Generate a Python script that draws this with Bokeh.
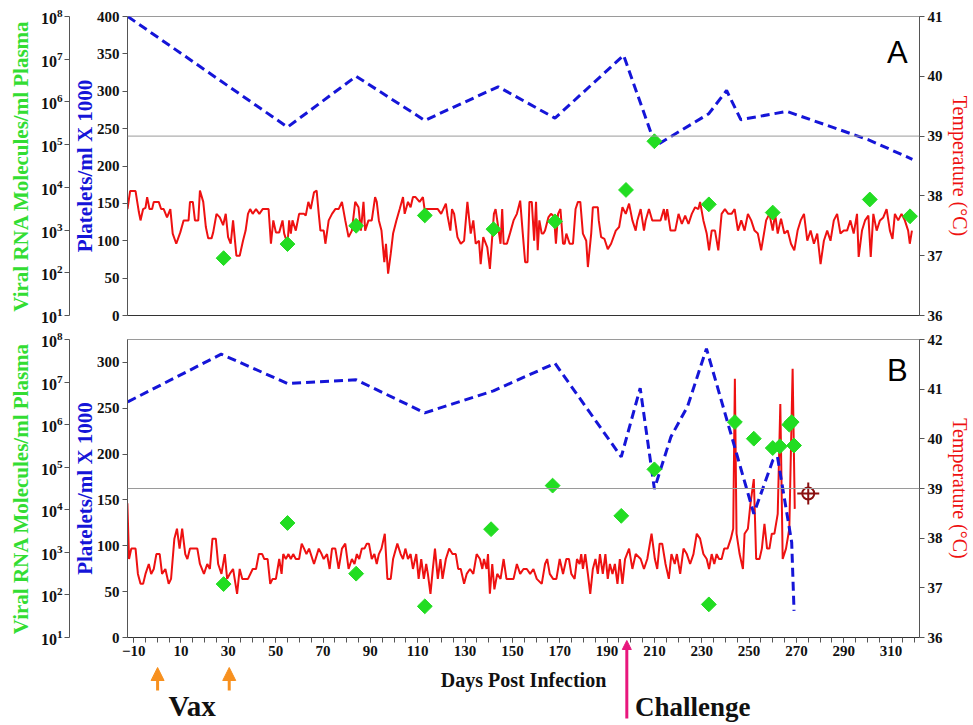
from bokeh.plotting import figure
from bokeh.models import (Range1d, LinearAxis, LogAxis, LogScale, FixedTicker, Span,
                          Label, Arrow, NormalHead, GridBox)
from bokeh.embed import file_html
from bokeh.resources import INLINE

# ---------------- data ----------------
# Panel A
a_plt_days = [-12.5, 55, 84, 113, 144, 168, 197, 210.5, 233, 240.5, 246.5, 266, 300.5, 319]
a_plt_vals = [400, 252, 320, 261, 306, 264, 348, 227, 270, 301, 262, 273, 235, 209]

a_vir_days = [28, 55, 84, 113, 142, 168, 198, 210, 233, 260, 301, 318]
a_vir_vals = [220, 470, 1260, 2200, 1050, 1600, 8700, 120000, 4000, 2570, 5200, 2100]

a_tmp_days = [-12.6, -11.5, -9.2, -7.8, -7.1, -6.0, -5.0, -4.3, -3.3, -2.2, -1.5, 0.6, 1.6, 2.7,
              4.1, 5.5, 6.5, 8.0, 9.7, 11.1, 13.2, 13.8, 15.0, 15.9, 17.3, 18.0, 19.4, 20.5,
              21.5, 22.9, 23.6, 25.0, 26.4, 27.8, 28.9, 29.9, 31.0, 32.0, 33.4, 34.8, 36.2,
              37.3, 38.3, 39.2, 40.3, 41.7, 43.1, 44.5, 45.9, 47.0, 48.0, 49.0, 50.1, 51.5,
              52.9, 53.6, 55.0, 55.7, 56.4, 57.1, 58.5, 59.9, 62.0, 62.7, 63.8, 64.8, 66.2,
              67.3, 68.2, 68.9, 70.3, 71.0, 72.4, 73.8, 75.2, 76.6, 78.0, 79.4, 80.8, 82.2,
              83.6, 85.0, 86.0, 87.1, 87.8, 89.2, 90.6, 92.0, 92.7, 93.6, 94.7, 95.9, 96.6,
              97.5, 98.6, 99.6, 101.0, 102.4, 103.8, 104.5, 105.9, 107.0, 108.0, 109.1, 110.8,
              112.2, 112.9, 114.3, 116.4, 118.5, 119.9, 121.9, 122.6, 123.8, 124.5, 125.4,
              126.8, 128.2, 129.6, 131.0, 132.4, 133.5, 134.5, 135.9, 136.6, 137.7, 139.4,
              140.5, 142.2, 142.9, 143.6, 145.0, 145.7, 146.3, 147.7, 149.1, 150.5, 151.9,
              153.3, 154.4, 155.4, 156.4, 157.2, 158.2, 159.2, 160.0, 160.7, 161.4, 162.4,
              163.1, 163.8, 165.2, 166.3, 167.2, 167.9, 168.4, 169.3, 170.3, 171.4, 172.1,
              172.8, 174.2, 175.6, 176.7, 177.7, 178.7, 179.8, 181.2, 181.9, 183.3, 184.0,
              186.1, 186.5, 187.5, 188.9, 190.3, 191.7, 193.7, 195.1, 196.5, 197.9, 199.3,
              200.7, 202.1, 202.8, 204.2, 205.6, 206.3, 207.7, 209.1, 210.5, 212.6, 214.0,
              214.7, 215.4, 216.8, 218.8, 220.2, 221.6, 223.0, 224.4, 225.8, 227.2, 228.6,
              229.3, 230.7, 232.1, 233.1, 234.2, 235.6, 237.0, 238.4, 239.8, 241.2, 242.6,
              243.9, 245.3, 246.7, 248.1, 249.5, 250.9, 252.3, 253.7, 255.1, 256.5, 257.2,
              258.6, 260.0, 261.0, 262.1, 263.5, 264.9, 266.3, 267.7, 269.1, 270.5, 271.8,
              273.2, 274.6, 276.0, 277.4, 278.8, 280.2, 281.6, 283.0, 284.4, 285.8, 287.2,
              288.6, 290.0, 291.4, 292.8, 294.2, 295.6, 296.3, 297.7, 299.0, 300.4, 301.4,
              302.5, 303.9, 305.3, 306.7, 308.1, 309.5, 310.6, 311.6, 313.0, 314.4, 315.8,
              317.2, 317.9, 318.8]
a_tmp_vals = [37.78, 38.08, 38.08, 37.73, 37.59, 37.78, 37.80, 37.98, 37.78, 37.78, 37.90, 37.90,
              37.78, 37.78, 37.64, 37.78, 37.37, 37.20, 37.39, 37.59, 37.59, 37.90, 37.90, 37.59,
              37.59, 38.09, 37.90, 37.48, 37.29, 37.29, 37.39, 37.70, 37.64, 37.51, 37.70, 37.31,
              37.20, 37.59, 37.00, 37.00, 37.25, 37.42, 37.70, 37.78, 37.70, 37.78, 37.70, 37.78,
              37.78, 37.78, 37.20, 37.59, 37.39, 37.39, 37.59, 37.37, 37.20, 37.59, 37.37, 37.59,
              37.42, 37.70, 37.70, 37.67, 37.90, 37.78, 38.06, 38.09, 37.70, 37.42, 37.42, 37.20,
              37.59, 37.70, 37.78, 37.78, 37.90, 37.59, 37.31, 37.42, 37.90, 37.81, 37.42, 37.90,
              37.42, 37.59, 37.59, 37.98, 37.90, 37.59, 37.42, 36.89, 37.20, 36.70, 37.03, 37.37,
              37.59, 37.78, 37.98, 37.70, 37.90, 37.81, 37.98, 37.98, 37.90, 37.98, 37.78, 37.78,
              37.78, 37.78, 37.70, 37.87, 37.67, 37.42, 37.78, 37.70, 37.31, 37.20, 37.25, 37.90,
              37.37, 37.59, 37.20, 37.25, 36.86, 37.31, 37.14, 36.78, 37.70, 37.78, 37.59, 37.20,
              37.78, 37.20, 37.20, 37.39, 37.59, 37.70,
              37.92, 37.37, 36.89, 36.89, 37.90, 37.90, 37.25, 37.90, 37.09, 37.59, 37.37, 37.37,
              37.42, 37.64, 37.70, 37.67, 37.48, 37.20, 37.70, 37.78, 37.20, 37.20, 37.37, 37.20,
              37.20, 37.78, 37.90, 37.90, 37.37, 37.25, 36.81, 37.37, 37.81, 37.81, 37.59, 37.31,
              37.28, 37.11, 37.20, 37.42, 37.48, 37.81, 37.70, 37.87, 37.59, 37.42, 37.59, 37.78,
              37.42, 37.59, 37.78, 37.59, 37.59, 37.59, 37.78, 37.59, 37.78, 37.42, 37.42, 37.70,
              37.53, 37.67, 37.53, 37.70, 37.81, 37.78, 37.90, 37.59, 37.37, 37.09, 37.42, 37.42,
              37.09, 37.70, 37.78, 37.70, 37.70, 37.78, 37.42, 37.59, 37.42, 37.70, 37.59, 37.42,
              37.37, 37.09, 37.42, 37.59, 37.70, 37.42, 37.70, 37.37, 37.62, 37.37, 37.42, 37.20,
              37.09, 37.42, 37.59, 37.70, 37.25, 37.42, 37.20, 37.37, 36.86, 37.25, 37.42, 37.25,
              37.59, 37.70, 37.37, 37.42, 37.42, 37.59, 37.37, 37.70, 36.98, 37.42, 37.59, 37.67,
              36.98, 37.70, 37.42, 37.59, 37.64, 37.78, 37.42, 37.28, 37.70, 37.59, 37.70, 37.59,
              37.42, 37.20, 37.42]

# Panel B
b_plt_days = [-12.5, 27, 55, 84, 113, 142, 168, 196, 204, 210, 217, 224, 232, 252, 260, 262, 268, 269]
b_plt_vals = [257, 309, 277, 281, 245, 269, 299, 197, 272, 162, 219, 252, 315, 135, 193, 197, 104, 29]

b_vir_days = [28, 55, 84, 113, 141, 167, 196, 210, 233, 244, 252, 260, 263, 267, 268, 269]
b_vir_vals = [180, 4900, 316, 54, 3500, 37000, 7200, 89000, 60, 1150000, 468000, 282000,
              309000, 1000000, 1150000, 324000]

b_tmp_days = [-12.65, -11.95, -11.0, -9.2, -8.2, -7.1, -6.0, -5.0, -3.6, -2.6, -1.5, -0.4, 1.0,
              2.0, 3.4, 4.8, 5.8, 7.2, 8.3, 9.4, 10.5, 11.8, 12.7, 13.8, 16.9, 18.0, 19.7, 21.1,
              22.2, 23.3, 24.7, 25.7, 27.1, 28.5, 29.5, 30.6, 32.0, 33.7, 34.8, 35.9, 38.3, 40.3,
              41.7, 42.9, 44.3, 45.2, 46.6, 47.7, 48.7, 50.1, 51.5, 52.5, 53.2, 54.3, 55.4, 56.4,
              57.4, 58.5, 59.9, 61.0, 62.0, 63.0, 64.1, 66.2, 68.2, 69.4, 70.3, 71.7, 72.8, 73.8,
              75.2, 76.6, 78.0, 79.4, 80.8, 82.2, 83.3, 84.3, 85.3, 86.4, 87.5, 88.5, 89.4, 90.6,
              91.7, 92.7, 93.6, 94.7, 96.1, 97.2, 98.6, 99.6, 101.4, 102.8, 103.8, 104.8, 105.9,
              107.0, 108.0, 109.4, 110.4, 111.5, 112.6, 113.6, 114.3, 115.4, 116.4, 117.3, 118.5,
              119.6, 120.5, 121.9, 123.3, 124.7, 126.1, 127.1, 128.2, 129.6, 130.7, 132.1, 133.5,
              134.9, 136.3, 137.3, 138.0, 139.1, 139.7, 140.5, 141.5, 142.4, 143.6, 145.0, 146.3,
              147.5, 150.5, 151.9,
              153.3, 154.7, 156.1, 157.5, 158.9, 160.3, 162.4, 163.8, 164.7, 165.8, 167.2, 168.6,
              170.0, 171.4, 172.8, 173.9, 174.9, 176.3, 177.3, 178.4, 179.1, 179.8, 180.8, 181.9,
              182.9, 184.0, 185.1, 186.1, 187.0, 188.2, 189.3, 190.3, 191.2, 192.3, 193.3, 194.4,
              195.4, 196.5, 197.6, 199.3, 200.7, 202.1, 204.2, 205.6, 207.0, 208.8, 210.2, 211.2,
              212.2, 213.3, 214.7, 216.1, 217.2, 218.6, 219.5, 220.9, 222.3, 223.7, 225.1, 226.5,
              227.9, 229.3, 230.7, 232.1, 233.1, 234.2, 235.3, 236.3, 237.3, 238.4, 239.5, 240.9,
              242.3, 243.3, 244.0, 244.7, 246.0, 247.4, 248.1, 249.5, 250.6, 252.0, 253.0, 254.4,
              255.4, 256.5, 257.6, 258.6, 259.6, 260.7, 262.1, 263.2, 264.2, 265.6, 267.0, 268.4,
              269.3]
b_tmp_vals = [38.70, 37.58, 37.79, 37.79, 37.28, 37.08, 37.08, 37.28, 37.48, 37.28, 37.38, 37.68,
              37.68, 37.28, 37.38, 37.08, 37.18, 37.99, 38.19, 37.79, 38.19, 37.68, 37.58, 37.79,
              37.79, 37.48, 37.28, 37.48, 37.38, 37.99, 37.99, 37.48, 37.28, 37.68, 37.18, 37.28,
              37.38, 36.88, 37.38, 37.18, 37.18, 37.38, 37.38, 37.68, 37.68, 37.58, 37.58, 37.08,
              37.18, 37.18, 37.58, 37.28, 37.68, 37.58, 37.68, 37.58, 37.68, 37.58, 37.58, 37.89,
              37.79, 37.68, 37.79, 37.48, 37.79, 37.68, 37.58, 37.68, 37.38, 37.79, 37.79, 37.38,
              37.79, 37.89, 37.38, 37.58, 37.48, 37.68, 37.58, 37.79, 37.79, 37.89, 37.89, 37.58,
              37.68, 37.48, 37.68, 37.79, 38.09, 37.18, 37.18, 37.58, 37.89, 37.68, 37.58, 37.79,
              37.58, 37.68, 37.38, 37.68, 37.18, 37.58, 37.18, 37.48, 37.28, 36.88, 37.38, 37.79,
              37.18, 37.58, 37.18, 37.58, 37.79, 37.68, 37.68, 37.38, 37.38, 37.08, 37.28, 37.38,
              37.28, 37.68, 37.58, 37.38, 37.58, 37.38, 37.68, 36.88, 37.48, 36.97, 37.28, 37.18,
              37.58, 37.18, 37.18, 37.48,
              37.28, 37.38, 37.38, 37.28, 37.38, 37.18, 37.08, 37.48, 37.58, 37.28, 37.18, 37.18,
              37.58, 37.28, 37.58, 37.58, 37.28, 37.18, 37.58, 37.48, 37.68, 37.38, 37.68, 37.28,
              36.88, 37.38, 37.58, 37.28, 37.68, 37.28, 37.68, 37.18, 37.48, 37.28, 37.48, 37.08,
              37.58, 37.08, 37.58, 37.79, 37.38, 37.68, 37.58, 37.38, 37.58, 38.09, 37.58, 37.38,
              37.89, 37.89, 37.48, 37.18, 37.68, 37.48, 37.68, 37.28, 37.79, 37.68, 37.48, 37.68,
              38.09, 37.99, 37.68, 37.58, 37.38, 37.68, 37.48, 37.68, 37.58, 37.58, 37.79, 37.79,
              37.99, 38.19, 41.21, 38.09, 37.68, 37.38, 38.09, 38.19, 38.70, 39.19, 37.58, 37.58,
              37.79, 38.29, 37.79, 37.79, 38.09, 38.09, 38.49, 40.70, 37.58, 37.79, 38.19, 41.41,
              38.59]

b_end_day = [275]
b_end_tmp = [38.9]

vax_days = [0, 30]
challenge_day = [196.5]

x_ticks = list(range(-10, 311, 20))
x_minor = list(range(-10, 321, 5))
vir_ticks = [10 ** k for k in range(1, 9)]

# ---------------- styles ----------------
SERIF = "Liberation Serif"
RED = "#EE1111"
BLUE = "#1515D8"
GREEN = "#22DD22"
LBL_GREEN = "#33DD33"
AX = "#555555"

W = 973
LEFT = 127
RIGHT = 47
H_A, TOP_A, BOT_A = 325, 16, 10
H_B, TOP_B, BOT_B = 400, 14, 88


def style_axis(ax, size="15px"):
    ax.major_label_text_font = SERIF
    ax.major_label_text_font_style = "bold"
    ax.major_label_text_font_size = size
    ax.major_label_text_color = "#111111"
    ax.axis_line_color = AX
    ax.major_tick_line_color = AX
    ax.minor_tick_line_color = None
    ax.major_tick_in = 0
    ax.major_tick_out = 5
    ax.major_label_standoff = 3
    ax.axis_label_text_font = SERIF
    ax.axis_label_text_font_style = "bold"
    ax.axis_label_text_font_size = "21px"


def panel(plt_days, plt_vals, plt_max, plt_ticks, vir_days, vir_vals, tmp_days, tmp_vals,
          tmp_max, height, top, bottom, letter, letter_y, show_x):
    p = figure(width=W, height=height, output_backend="svg", toolbar_location=None,
               x_range=Range1d(-12.6, 322), y_range=Range1d(0, plt_max),
               min_border_left=LEFT, min_border_right=RIGHT, min_border_top=top,
               min_border_bottom=bottom)
    p.extra_y_ranges = {"viral": Range1d(10, 1e8), "temp": Range1d(36, tmp_max)}
    p.extra_y_scales = {"viral": LogScale()}
    p.xgrid.visible = False
    p.ygrid.visible = False
    p.outline_line_color = "#9a9a9a"
    p.background_fill_color = "white"
    p.border_fill_color = "white"

    # platelets (default left axis)
    ya = p.yaxis[0]
    ya.ticker = FixedTicker(ticks=plt_ticks)
    style_axis(ya)
    ya.axis_label = "Platelets/ml X 1000"
    ya.axis_label_text_color = BLUE
    ya.axis_label_standoff = -3

    # spacer between platelet label and viral axis
    sp = LinearAxis(y_range_name="temp", ticker=FixedTicker(ticks=[]), axis_line_color=None,
                    major_tick_out=3, major_tick_in=0, minor_tick_out=0,
                    major_label_standoff=0)
    p.add_layout(sp, "left")

    va = LogAxis(y_range_name="viral", ticker=FixedTicker(ticks=vir_ticks))
    style_axis(va, "16px")
    va.axis_label = "Viral RNA Molecules/ml Plasma"
    va.axis_label_text_color = LBL_GREEN
    va.axis_label_standoff = 5
    va.major_label_standoff = 2
    p.add_layout(va, "left")

    ta = LinearAxis(y_range_name="temp", ticker=FixedTicker(ticks=list(range(36, tmp_max + 1))))
    style_axis(ta)
    ta.axis_label = "Temperature (°C)"
    ta.axis_label_text_color = RED
    ta.axis_label_text_font_style = "normal"
    ta.axis_label_text_font_size = "20px"
    ta.axis_label_standoff = 3
    p.add_layout(ta, "right")

    xa = p.xaxis[0]
    style_axis(xa)
    xa.axis_line_color = "#333333"
    if show_x:
        xa.ticker = FixedTicker(ticks=x_ticks, minor_ticks=x_minor)
        xa.minor_tick_line_color = AX
        xa.minor_tick_out = 5
        xa.minor_tick_in = 0
        xa.axis_label = "Days Post Infection"
        xa.axis_label_text_color = "#111111"
        xa.axis_label_text_font_size = "20px"
        xa.axis_label_standoff = 10
    else:
        xa.ticker = FixedTicker(ticks=[], minor_ticks=[])
        xa.major_tick_out = 0

    p.add_layout(Span(location=39, dimension="width", y_range_name="temp",
                      line_color="#9a9a9a", line_width=1))

    p.line(tmp_days, tmp_vals, y_range_name="temp", line_color=RED, line_width=2)
    p.line(plt_days, plt_vals, line_color=BLUE, line_width=3, line_dash="9 5")
    p.scatter(vir_days, vir_vals, y_range_name="viral", marker="square", angle=0.785,
              size=10.5, fill_color=GREEN, line_color=GREEN)

    p.add_layout(Label(x=317, y=letter_y, text=letter, text_align="right",
                       text_baseline="alphabetic", text_font="Liberation Sans",
                       text_font_size="31px", text_color="#000000"))
    return p


pa = panel(a_plt_days, a_plt_vals, 400, list(range(0, 401, 50)), a_vir_days, a_vir_vals,
           a_tmp_days, a_tmp_vals, 41, H_A, TOP_A, BOT_A, "A", 352, False)
pb = panel(b_plt_days, b_plt_vals, 325, list(range(0, 301, 50)), b_vir_days, b_vir_vals,
           b_tmp_days, b_tmp_vals, 42, H_B, TOP_B, BOT_B, "B", 291, True)

# end-of-study marker
pb.scatter(b_end_day, b_end_tmp, y_range_name="temp", marker="circle", size=12,
           fill_color=None, line_color="#8B1010", line_width=2)
pb.scatter(b_end_day, b_end_tmp, y_range_name="temp", marker="cross", size=22,
           line_color="#8B1010", line_width=2)

# transparent overlay on panel B (whole canvas is its frame) for the annotations below the axis
u = 325 / 298  # platelet units per pixel in panel B
ov = figure(width=W, height=H_B, output_backend="svg", toolbar_location=None, title=None,
            x_range=pb.x_range,
            y_range=Range1d(-(H_B - TOP_B - 298) * u, (298 + TOP_B) * u),
            min_border_left=LEFT, min_border_right=RIGHT, min_border_top=0,
            min_border_bottom=0)
ov.frame_align = False
ov.xaxis.visible = False
ov.yaxis.visible = False
ov.xgrid.visible = False
ov.ygrid.visible = False
ov.outline_line_color = None
ov.background_fill_alpha = 0
ov.border_fill_alpha = 0

for d in vax_days:
    ov.add_layout(Arrow(x_start=d, y_start=-53 * u, x_end=d, y_end=-30 * u,
                        line_color="#F7901E", line_width=3,
                        end=NormalHead(size=13, fill_color="#F7901E", line_color="#F7901E")))
for d in challenge_day:
    ov.add_layout(Arrow(x_start=d, y_start=-81 * u, x_end=d, y_end=-3 * u,
                        line_color="#E8177D", line_width=3,
                        end=NormalHead(size=9, fill_color="#E8177D", line_color="#E8177D")))
ov.add_layout(Label(x=vax_days[0] + 4.6, y=-84 * u, text="Vax", text_font=SERIF,
                    text_font_style="bold", text_font_size="29px", text_color="#111111",
                    text_baseline="bottom"))
ov.add_layout(Label(x=challenge_day[0] + 3.4, y=-84 * u, text="Challenge", text_font=SERIF,
                    text_font_style="bold", text_font_size="27px", text_color="#111111",
                    text_baseline="bottom"))

layout = GridBox(children=[(pa, 0, 0), (pb, 1, 0), (ov, 1, 0)])
open("out.html", "w").write(file_html(layout, INLINE))
